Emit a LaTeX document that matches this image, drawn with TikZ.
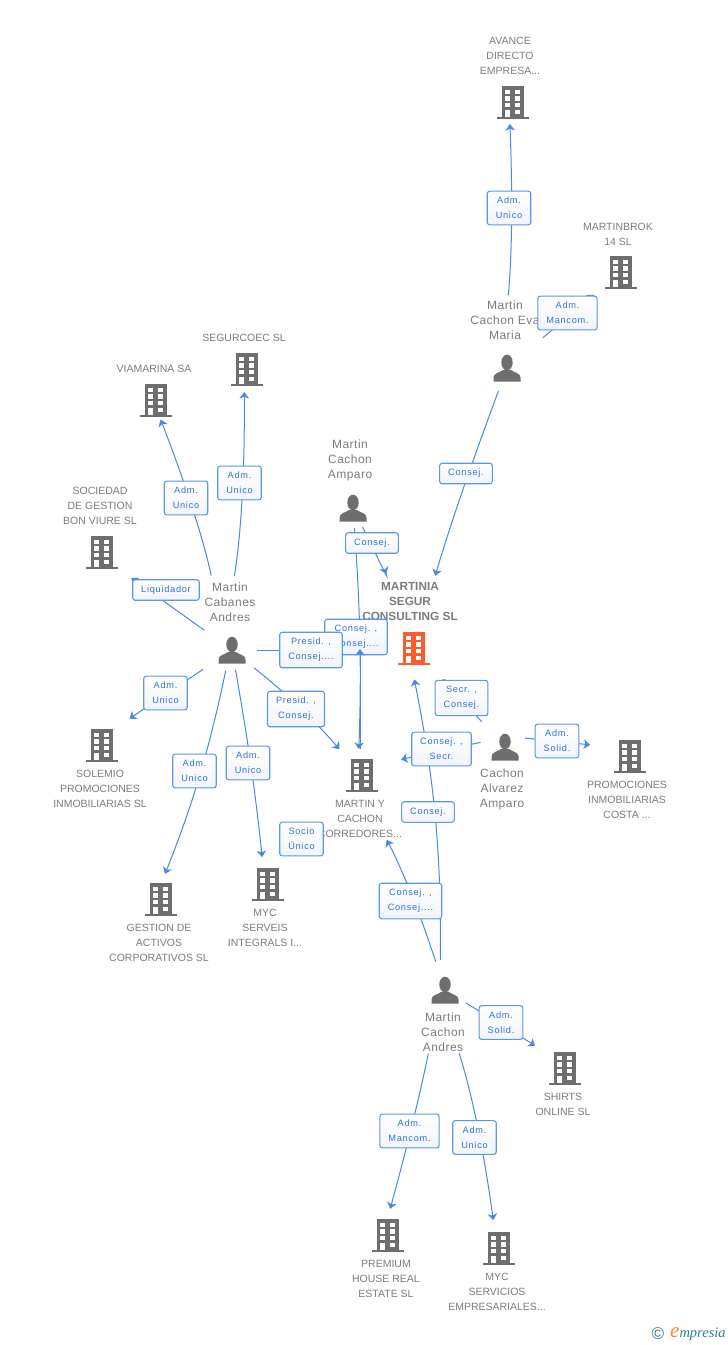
\documentclass[tikz,border=0pt]{standalone}
\usepackage{fontspec}
\setmainfont{Liberation Sans}
\newfontfamily\tagfont[LetterSpace=8]{Liberation Sans}
\newfontfamily\peoplefont[LetterSpace=4]{Liberation Sans}
\newfontfamily\logofont{Liberation Serif}
\usetikzlibrary{arrows.meta}
\definecolor{gristxt}{HTML}{7C7C7C}
\definecolor{griicon}{HTML}{6E6E6E}
\definecolor{orangeicon}{HTML}{FF5A2C}
\definecolor{azul}{HTML}{4A88E6}
\definecolor{azultxt}{HTML}{2F74DC}
\definecolor{azulbox}{HTML}{5C97EA}
\definecolor{tagshade}{HTML}{F1F4F9}
\definecolor{logoteal}{HTML}{2F7F93}
\definecolor{logoorange}{HTML}{F08A1E}
\tikzset{
  spot/.style={shape=circle,minimum size=40pt,inner sep=0pt},
  firmlabel/.style={text=gristxt,align=center,font=\fontsize{10.5}{15}\selectfont,inner sep=0pt},
  personlabel/.style={text=gristxt,align=center,font=\peoplefont\fontsize{12}{15}\selectfont,inner sep=0pt},
  conn/.style={-{Stealth[length=6.5pt,width=9.5pt,inset=1.8pt]},azul,line width=1pt},
  gap/.style 2 args={shorten <=#1pt,shorten >=#2pt},
  tagbox/.style={draw=azulbox,line width=1.1pt,rounded corners=2.5pt,top color=white,bottom color=tagshade,text=azultxt,
    align=center,font=\tagfont\fontsize{9.2}{15}\selectfont,inner xsep=8.5pt,inner ysep=6pt},
  firmicon/.pic={
    \fill[pic actions] (-11,-16.5) rectangle (11,15);
    \fill[pic actions] (-16,14.5) rectangle (16,16.5);
    \foreach \wy in {-12.5,-5.8,0.8}{
      \fill[white] (-7.6,\wy) rectangle (-2.6,\wy+4.4);
      \fill[white] (2.4,\wy) rectangle (7.4,\wy+4.4);
    }
    \fill[white] (-7.6,7.5) rectangle (-2.6,14.5);
    \fill[white] (2.4,7.5) rectangle (7.4,12);
  },
  personicon/.pic={
    \fill[griicon] (0,-5.5) ellipse (5.7 and 7.8);
    \fill[griicon] (-13.5,13.5) -- (-13.5,9.5) .. controls (-13.5,5) and (-7,4.5) .. (-4,2)
      -- (4,2) .. controls (7,4.5) and (13.5,5) .. (13.5,9.5) -- (13.5,13.5) -- cycle;
  }
}
\begin{document}
\begin{tikzpicture}[x=1pt,y=-1pt]
\useasboundingbox (0,0) rectangle (728,1345);
% companies
\foreach \nm/\px/\py in {avance/513/102,martinbrok/621/272,segurcoec/247/369,viamarina/156/400,
  bonvivre/102/552,solemio/102/745,corredores/362/775,promociones/630/756,gestion/161/899,
  serveis/268/884,shirts/565/1068,premium/388/1235,servicios/499/1248}{
  \node[spot] (\nm) at (\px,\py) {};
  \pic[griicon] at (\nm) {firmicon};
}
\node[spot] (martinia) at (414,648) {};
\pic[orangeicon] at (martinia) {firmicon};
% people
\foreach \nm/\px/\py in {eva/507/368,amparo/353/508,cabanes/232/650,alvarez/505/747,andres/445/990}{
  \node[spot] (\nm) at (\px,\py) {};
  \pic at (\nm) {personicon};
}
% texts
\node[firmlabel] (avancetxt) at (510,56) {AVANCE\\DIRECTO\\EMPRESA...};
\node[firmlabel] (martinbroktxt) at (618,234) {MARTINBROK\\14  SL};
\node[firmlabel] (segurcoectxt) at (244,338) {SEGURCOEC SL};
\node[firmlabel] (viamarinatxt) at (154,369) {VIAMARINA SA};
\node[firmlabel] (bonvivretxt) at (100,506) {SOCIEDAD\\DE GESTION\\BON VIURE SL};
\node[firmlabel] (solemiotxt) at (100,789) {SOLEMIO\\PROMOCIONES\\INMOBILIARIAS SL};
\node[firmlabel] (corredorestxt) at (360,819) {MARTIN Y\\CACHON\\CORREDORES...};
\node[firmlabel] (promocionestxt) at (627,800) {PROMOCIONES\\INMOBILIARIAS\\COSTA ...};
\node[firmlabel] (gestiontxt) at (159,943) {GESTION DE\\ACTIVOS\\CORPORATIVOS SL};
\node[firmlabel] (serveistxt) at (265,928) {MYC\\SERVEIS\\INTEGRALS I...};
\node[firmlabel] (shirtstxt) at (563,1104) {SHIRTS\\ONLINE SL};
\node[firmlabel] (premiumtxt) at (386,1279) {PREMIUM\\HOUSE REAL\\ESTATE  SL};
\node[firmlabel] (serviciostxt) at (497,1292) {MYC\\SERVICIOS\\EMPRESARIALES...};
\node[personlabel] (evatxt) at (505,320) {Martin\\Cachon Eva\\Maria};
\node[personlabel] (amparotxt) at (350,460) {Martin\\Cachon\\Amparo};
\node[personlabel] (cabanestxt) at (230,602) {Martin\\Cabanes\\Andres};
\node[personlabel] (alvareztxt) at (502,789) {Cachon\\Alvarez\\Amparo};
\node[personlabel] (andrestxt) at (443,1032) {Martin\\Cachon\\Andres};
\node[personlabel,font=\bfseries\fontsize{11.8}{15}\selectfont] (martiniatxt) at (410,601) {MARTINIA\\SEGUR\\CONSULTING SL};
% connectors
\coordinate (presidend) at (360,649);
\draw[conn,gap={73}{22}] ([xshift=-6pt]eva.center) to[bend right=4] ([xshift=-4pt]avance.center);
\draw[conn,gap={27}{15}] (eva) to (martinbrok);
\draw[conn,gap={4}{55}] (eva) to[bend right=2] (martinia);
\draw[conn,gap={1}{59}] (amparo) to[bend left=3] (martinia);
\draw[conn,gap={20}{26}] (amparo.center) to[bend left=3] ([xshift=-4pt]corredores.center);
\draw[conn,gap={8}{14}] (cabanes) to[bend left=5] (corredores);
\draw[conn,gap={76}{21}] ([xshift=-6pt]cabanes.center) to[bend right=5] ([xshift=-3pt]viamarina.center);
\draw[conn,gap={75}{23}] ([xshift=-10pt]cabanes.center) to[bend right=5] ([xshift=-3pt]segurcoec.center);
\draw[conn,gap={34}{36}] (cabanes.center) to ([yshift=-5pt]bonvivre.center);
\draw[conn,gap={35}{33}] (cabanes.center) to ([yshift=8pt]solemio.center);
\draw[conn,gap={21}{27}] ([xshift=-2pt]cabanes.center) to[bend left=5] ([xshift=-6pt]gestion.center);
\draw[conn,gap={20}{27}] (cabanes.center) to[bend left=2] ([xshift=-3pt]serveis.center);
\draw[conn,gap={30}{75}] (andres.center) to[bend right=6] ([xshift=-13pt]corredores.center);
\draw[conn,gap={30}{32}] ([xshift=-5pt]andres.center) to[bend right=6] ([xshift=-6pt]martinia.center);
\draw[conn,gap={45}{17}] (corredores) to (serveis);
\draw[conn,gap={14}{22}] (alvarez) to (martinia);
\draw[conn,gap={25}{40}] ([yshift=10pt]alvarez.center) to ([yshift=7pt]corredores.center);
\draw[conn,gap={20}{40}] ([yshift=11pt]alvarez.center) to ([yshift=7pt]promociones.center);
\draw[conn,gap={25}{35}] (andres.center) to ([yshift=4pt]shirts.center);
\draw[conn,gap={65}{27}] ([xshift=-4pt]andres.center) to[bend left=2] ([xshift=-5pt]premium.center);
\draw[conn,gap={66}{28}] ([xshift=-6pt]andres.center) to[bend left=5] ([xshift=-2pt]servicios.center);
% tags
\node[tagbox] (t1) at (509,208) {Adm.\\Unico};
\node[tagbox] (t2) at (567.5,313) {Adm.\\Mancom.};
\node[tagbox] (t3) at (466,473.5) {Consej.};
\node[tagbox] (t4) at (372,543) {Consej.};
\node[tagbox] (t5) at (356,637) {Consej. ,\\Consej....};
\draw[azul,line width=1pt,shorten <=5pt] (cabanes) -- (311,650);
\node[tagbox] (t6) at (311,650) {Presid. ,\\Consej....};
\node[tagbox] (t7) at (296,709) {Presid. ,\\Consej.};
\node[tagbox] (t8) at (186,498) {Adm.\\Unico};
\node[tagbox] (t9) at (239.5,483) {Adm.\\Unico};
\node[tagbox] (t10) at (166,590) {Liquidador};
\node[tagbox] (t11) at (165.5,693) {Adm.\\Unico};
\node[tagbox] (t12) at (194.5,771) {Adm.\\Unico};
\node[tagbox] (t13) at (248,763) {Adm.\\Unico};
\node[tagbox] (t14) at (410.5,901) {Consej. ,\\Consej....};
\node[tagbox] (t15) at (428,812) {Consej.};
\node[tagbox] (t16) at (301.5,839) {Socio\\Único};
\node[tagbox] (t17) at (461.5,698) {Secr. ,\\Consej.};
\node[tagbox] (t18) at (441.5,749) {Consej. ,\\Secr.};
\node[tagbox] (t19) at (557,741) {Adm.\\Solid.};
\node[tagbox] (t20) at (501,1022.5) {Adm.\\Solid.};
\node[tagbox] (t21) at (409.5,1131) {Adm.\\Mancom.};
\node[tagbox] (t22) at (474.5,1137.5) {Adm.\\Unico};
\draw[conn,gap={26}{0}] ([xshift=-2pt]corredores.center) to (presidend);
% logo
\node[text=logoteal,font=\fontsize{17}{17}\selectfont,inner sep=0pt] (logoc) at (658,1334) {©};
\node[anchor=west,inner sep=0pt,font=\logofont\itshape\fontsize{14.5}{15}\selectfont,text=logoteal] (logotxt) at (670,1334)
  {{\color{logoorange}\fontsize{21}{21}\selectfont e}mpresia};
\end{tikzpicture}
\end{document}
